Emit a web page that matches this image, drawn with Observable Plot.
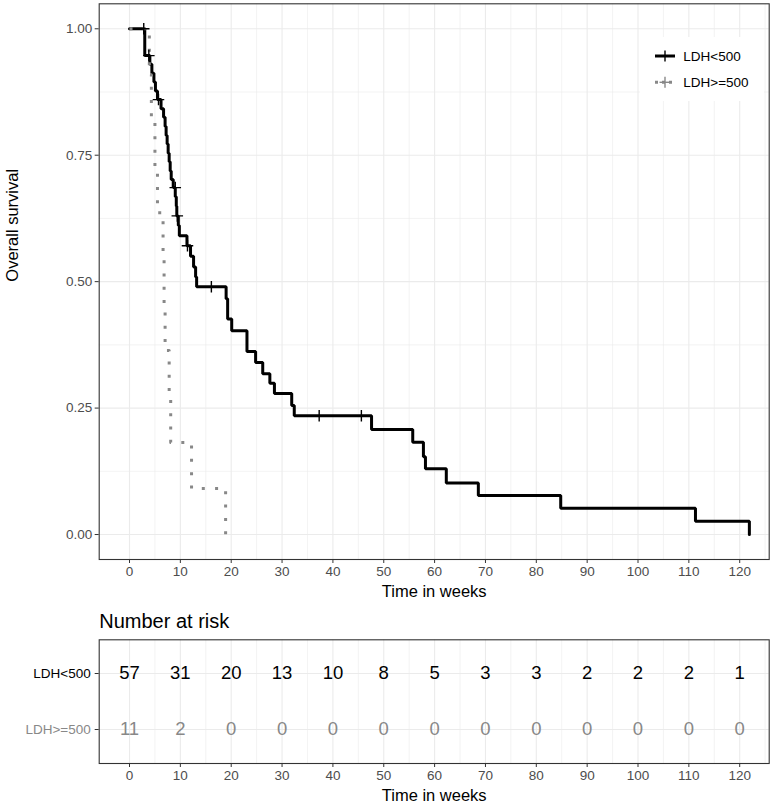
<!DOCTYPE html>
<html>
<head>
<meta charset="utf-8">
<script src="https://cdn.jsdelivr.net/npm/d3@7"></script>
<script src="https://cdn.jsdelivr.net/npm/@observablehq/plot@0.6"></script>
<style>
  body { margin: 0; background: white; font-family: "Liberation Sans", Arial, sans-serif; }
  #wrap { position: relative; width: 773px; height: 805px; overflow: hidden; background: white; }
  #main, #table { position: absolute; left: 0; }
  #main { top: 0; }
  #table { top: 605px; }
  #legend { position: absolute; left: 640px; top: 37px; width: 124px; height: 64px; background: white; }
  #legend svg { display: block; }
</style>
</head>
<body>
<div id="wrap">
  <div id="main"></div>
  <div id="table"></div>
  <div id="legend"></div>
</div>
<script>
// ---------- data ----------
const groups = ["LDH<500", "LDH>=500"];
const xTicks = [0, 10, 20, 30, 40, 50, 60, 70, 80, 90, 100, 110, 120];
const xMinor = [5, 15, 25, 35, 45, 55, 65, 75, 85, 95, 105, 115, 125];
const yTicks = [0, 0.25, 0.5, 0.75, 1];
const yMinor = [0.125, 0.375, 0.625, 0.875];

// Kaplan-Meier steps, LDH<500 (time in weeks, survival after the step)
const timeLow = [0, 3.0, 4.0, 4.4, 4.8, 5.1, 5.5, 6.2, 6.7, 7.0, 7.2, 7.4, 7.6, 7.8, 8.0, 8.2, 8.6, 9.0, 9.2, 9.3, 9.6, 9.8,
  11.3, 12.0, 12.6, 13.0, 13.2, 19.0, 19.3, 20.1, 23.1, 24.8, 26.2, 27.6, 28.5, 31.9, 32.4, 47.6, 55.7, 57.8, 58.2,
  62.3, 68.6, 84.8, 111.3, 121.9];
const survLow = [1.0, 0.947, 0.930, 0.912, 0.895, 0.877, 0.860, 0.842, 0.825, 0.807, 0.789, 0.772, 0.754, 0.737, 0.719, 0.702, 0.686, 0.668, 0.649, 0.630, 0.611, 0.591,
  0.571, 0.550, 0.529, 0.509, 0.490, 0.466, 0.426, 0.403, 0.362, 0.340, 0.318, 0.299, 0.279, 0.255, 0.235, 0.2075, 0.1824, 0.154, 0.130,
  0.102, 0.077, 0.052, 0.026, 0.0];
// censoring marks, LDH<500
const censorTimeLow = [2.8, 3.8, 5.7, 9.0, 9.4, 11.4, 16.1, 37.3, 45.6];
const censorSurvLow = [1.0, 0.947, 0.860, 0.686, 0.630, 0.571, 0.490, 0.235, 0.235];

// Kaplan-Meier steps, LDH>=500
const timeHigh = [0, 3.9, 4.3, 5.0, 5.5, 6.6, 6.8, 7.0, 7.8, 8.1, 12.2, 18.9];
const survHigh = [1.0, 0.909, 0.818, 0.727, 0.636, 0.545, 0.455, 0.364, 0.273, 0.182, 0.091, 0.0];

// number at risk
const riskTimes = xTicks;
const riskLow = [57, 31, 20, 13, 10, 8, 5, 3, 3, 2, 2, 2, 1];
const riskHigh = [11, 2, 0, 0, 0, 0, 0, 0, 0, 0, 0, 0, 0];

// ---------- build ----------
const FONT = '"Liberation Sans", Arial, sans-serif';
const GRID = "#ebebeb";
const DARK = "#333333";
const TICKTXT = "#4d4d4d";
const GREY = "#888888";
const xDomain = [-5.96, 125.8];

const low = timeLow.map((t, i) => ({t, s: survLow[i]}));
const high = timeHigh.map((t, i) => ({t, s: survHigh[i]}));
const censLow = censorTimeLow.map((t, i) => ({t, s: censorSurvLow[i]}));

const main = Plot.plot({
  width: 773, height: 605,
  marginLeft: 98.7, marginRight: 4.3, marginTop: 3.3, marginBottom: 46,
  style: {fontFamily: FONT, fontSize: "13.5px", background: "white", overflow: "visible"},
  x: {domain: xDomain},
  y: {domain: [-0.0494, 1.0494]},
  marks: [
    Plot.ruleX(xMinor, {stroke: GRID, strokeWidth: 0.6}),
    Plot.ruleY(yMinor, {stroke: GRID, strokeWidth: 0.6}),
    Plot.ruleX(xTicks, {stroke: GRID, strokeWidth: 1.1}),
    Plot.ruleY(yTicks, {stroke: GRID, strokeWidth: 1.1}),
    Plot.line(low, {x: "t", y: "s", curve: "step-after", stroke: "black", strokeWidth: 3, strokeLinejoin: "miter"}),
    Plot.line(high, {x: "t", y: "s", curve: "step-after", stroke: GREY, strokeWidth: 3, strokeDasharray: "3,10.3", strokeLinecap: "butt"}),
    Plot.dot(censLow, {x: "t", y: "s", symbol: "plus", r: 3.8, stroke: "black", strokeWidth: 1.4}),
    Plot.frame({stroke: DARK, strokeWidth: 1.1}),
    Plot.axisX(xTicks, {tickSize: 4, tickPadding: 3, stroke: DARK, fill: TICKTXT, fontSize: 13.5, label: null}),
    Plot.axisY(yTicks, {tickSize: 4, tickPadding: 3, stroke: DARK, fill: TICKTXT, fontSize: 13.5, label: null, tickFormat: d3.format(".2f")}),
    Plot.text(["Time in weeks"], {frameAnchor: "bottom", dy: 32, lineAnchor: "middle", fontSize: 16.5, fill: "black"}),
    Plot.text(["Overall survival"], {frameAnchor: "left", dx: -86.7, rotate: -90, lineAnchor: "middle", fontSize: 16.5, fill: "black"})
  ]
});
document.getElementById("main").appendChild(main);

const rows = [];
riskTimes.forEach((t, i) => {
  rows.push({t, g: groups[0], n: riskLow[i]});
  rows.push({t, g: groups[1], n: riskHigh[i]});
});

const table = Plot.plot({
  width: 773, height: 200,
  marginLeft: 98.7, marginRight: 4.3, marginTop: 34.3, marginBottom: 42,
  style: {fontFamily: FONT, fontSize: "13.5px", background: "white", overflow: "visible"},
  x: {domain: xDomain},
  y: {type: "point", domain: groups, padding: 0.6},
  marks: [
    Plot.ruleX(xMinor, {stroke: GRID, strokeWidth: 0.6}),
    Plot.ruleX(xTicks, {stroke: GRID, strokeWidth: 1.1}),
    Plot.ruleY(groups, {y: d => d, stroke: GRID, strokeWidth: 1.1}),
    Plot.text(rows, {x: "t", y: "g", text: d => String(d.n), fontSize: 18.5, lineAnchor: "middle",
      fill: d => d.g === groups[0] ? "black" : GREY}),
    Plot.frame({stroke: DARK, strokeWidth: 1.1}),
    Plot.axisX(xTicks, {tickSize: 4, tickPadding: 3, stroke: DARK, fill: TICKTXT, fontSize: 13.5, label: null}),
    Plot.axisY(groups, {tickSize: 4, stroke: DARK, tickFormat: () => "", label: null}),
    Plot.text(groups, {y: d => d, text: d => d, frameAnchor: "left", dx: -8.5, textAnchor: "end", lineAnchor: "middle",
      fontSize: 13.5, fill: d => d === groups[0] ? "black" : GREY}),
    Plot.text(["Number at risk"], {frameAnchor: "top-left", dy: -18.3, textAnchor: "start", lineAnchor: "middle", fontSize: 20, fill: "black"}),
    Plot.text(["Time in weeks"], {frameAnchor: "bottom", dy: 32, lineAnchor: "middle", fontSize: 16.5, fill: "black"})
  ]
});
document.getElementById("table").appendChild(table);

// ---------- legend ----------
const legendItems = [
  {label: groups[0], color: "black", dash: null},
  {label: groups[1], color: GREY, dash: "3,4"}
];
const lsvg = d3.create("svg").attr("width", 124).attr("height", 64)
  .style("font-family", FONT).style("font-size", "13.5px");
legendItems.forEach((it, i) => {
  const cy = 19 + i * 26.3;
  const g = lsvg.append("g");
  g.append("line").attr("x1", 15).attr("x2", 35).attr("y1", cy).attr("y2", cy)
    .attr("stroke", it.color).attr("stroke-width", 3).attr("stroke-dasharray", it.dash);
  g.append("line").attr("x1", 19.5).attr("x2", 30.5).attr("y1", cy).attr("y2", cy)
    .attr("stroke", it.color).attr("stroke-width", 1.4);
  g.append("line").attr("x1", 25).attr("x2", 25).attr("y1", cy - 5.5).attr("y2", cy + 5.5)
    .attr("stroke", it.color).attr("stroke-width", 1.4);
  g.append("text").attr("x", 43.3).attr("y", cy).attr("dy", "0.35em").attr("fill", "black").text(it.label);
});
document.getElementById("legend").appendChild(lsvg.node());
</script>
</body>
</html>
